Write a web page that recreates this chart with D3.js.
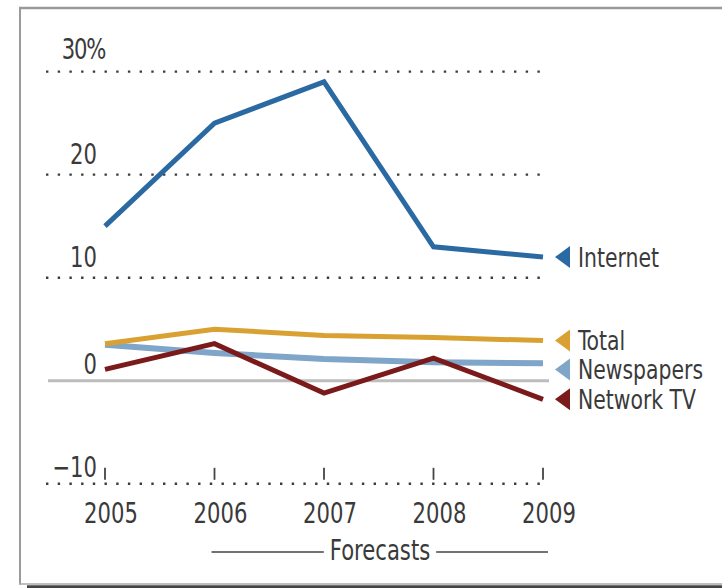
<!DOCTYPE html>
<html>
<head>
<meta charset="utf-8">
<script src="https://cdn.jsdelivr.net/npm/d3@7"></script>
<style>
  html, body { margin: 0; padding: 0; background: #fff; }
  svg { display: block; }
  text { font-family: "DejaVu Sans Condensed", "DejaVu Sans", sans-serif; fill: #3a3a3a; }
</style>
</head>
<body>
<svg id="chart" width="722" height="588"></svg>
<script>
// Annual change in ad spending, percent
const years = ["2005", "2006", "2007", "2008", "2009"];
const internet   = [15.0, 25.0, 29.0, 13.0, 12.0];
const total      = [3.6, 5.0, 4.4, 4.2, 3.9];
const newspapers = [3.5, 2.7, 2.1, 1.8, 1.7];
const networkTV  = [1.1, 3.6, -1.2, 2.2, -1.8];

const seriesNames  = ["Newspapers", "Total", "Network TV", "Internet"];
const seriesValues = [newspapers, total, networkTV, internet];
const seriesColors = ["#7fa5c9", "#d9a132", "#7b1a1a", "#2b69a2"];

const yTicks = [-10, 0, 10, 20];
const yTopTick = 30;
const gridTicks = [-10, 10, 20, 30];
const forecastLabel = "Forecasts";

const SX = 0.84;       // horizontal squeeze for the narrow type
const FS = 28;

const svg = d3.select("#chart");

const x = d3.scalePoint().domain(years).range([105, 543]);
const y = d3.scaleLinear().domain([-10, 30]).range([483.8, 71.6]);

// places a squeezed text with its anchor at (px, py)
function narrowText(sel, px, py, size) {
  return sel.attr("transform", (d, i) => {
    const X = typeof px === "function" ? px(d, i) : px;
    const Y = typeof py === "function" ? py(d, i) : py;
    return `translate(${X},${Y}) scale(${SX},1)`;
  }).attr("font-size", size || FS);
}

// frame
svg.append("line").attr("x1", 20).attr("x2", 20).attr("y1", 7).attr("y2", 584.5)
  .attr("stroke", "#9a9a9a").attr("stroke-width", 2);
svg.append("line").attr("x1", 19).attr("x2", 722).attr("y1", 8).attr("y2", 8)
  .attr("stroke", "#999").attr("stroke-width", 2.4);
svg.append("line").attr("x1", 19).attr("x2", 722).attr("y1", 584).attr("y2", 584)
  .attr("stroke", "#aaa").attr("stroke-width", 1.5);
svg.append("line").attr("x1", 27).attr("x2", 722).attr("y1", 586.7).attr("y2", 586.7)
  .attr("stroke", "#444").attr("stroke-width", 2.8);

// dotted gridlines
svg.append("g").selectAll("line").data(gridTicks).join("line")
  .attr("x1", 46).attr("x2", 549)
  .attr("y1", d => y(d)).attr("y2", d => y(d))
  .attr("stroke", "#3c3c3c").attr("stroke-width", 2.4)
  .attr("stroke-dasharray", "2.4 9.3");

// zero line
svg.append("line").attr("x1", 48).attr("x2", 549)
  .attr("y1", y(0)).attr("y2", y(0))
  .attr("stroke", "#bdbdbd").attr("stroke-width", 3);

// y tick labels
const yLab = svg.append("g");
narrowText(yLab.selectAll("text").data(yTicks).join("text"),
  97, d => y(d) - (d > 0 ? 11 : 7))
  .attr("text-anchor", "end")
  .text(d => d < 0 ? "\u2212" + Math.abs(d) : d);
narrowText(yLab.append("text"), 105, y(yTopTick) - 13)
  .attr("text-anchor", "end")
  .attr("letter-spacing", -1.5)
  .text(yTopTick + "%");

// x ticks and labels
svg.append("g").selectAll("line").data(years).join("line")
  .attr("x1", d => x(d)).attr("x2", d => x(d))
  .attr("y1", y(-10) - 16).attr("y2", y(-10) - 4)
  .attr("stroke", "#444").attr("stroke-width", 1.8);
narrowText(svg.append("g").selectAll("text").data(years).join("text"),
  d => x(d) + 6, 523)
  .attr("text-anchor", "middle")
  .text(d => d);

// forecast bracket
const fText = narrowText(svg.append("text"), 380, 560)
  .attr("text-anchor", "middle")
  .text(forecastLabel);
const fw = fText.node().getBBox().width * SX;
svg.append("line").attr("x1", x("2006") - 3).attr("x2", 380 - fw / 2 - 6)
  .attr("y1", 552).attr("y2", 552).attr("stroke", "#444").attr("stroke-width", 1.5);
svg.append("line").attr("x1", 380 + fw / 2 + 6).attr("x2", x("2009") + 5)
  .attr("y1", 552).attr("y2", 552).attr("stroke", "#444").attr("stroke-width", 1.5);

// series lines
const line = d3.line().x((d, i) => x(years[i])).y(d => y(d));
svg.append("g").selectAll("path").data(seriesValues).join("path")
  .attr("d", d => line(d))
  .attr("fill", "none")
  .attr("stroke", (d, i) => seriesColors[i])
  .attr("stroke-width", (d, i) => seriesNames[i] === "Newspapers" ? 6 : 5);

// end labels, spread vertically so they don't collide
const labels = seriesNames.map((name, i) => ({
  name, color: seriesColors[i], ty: y(seriesValues[i][years.length - 1])
})).sort((a, b) => a.ty - b.ty);
const minGap = 29;
for (let i = 1; i < labels.length; i++) {
  if (labels[i].ty - labels[i - 1].ty < minGap) labels[i].ty = labels[i - 1].ty + minGap;
}
const lg = svg.append("g").selectAll("g").data(labels).join("g")
  .attr("transform", d => `translate(0,${d.ty})`);
lg.append("path")
  .attr("d", "M555,0 L570,-11 L570,11 Z")
  .attr("fill", d => d.color);
narrowText(lg.append("text"), 578, 9.5, 27)
  .text(d => d.name);
</script>
</body>
</html>
